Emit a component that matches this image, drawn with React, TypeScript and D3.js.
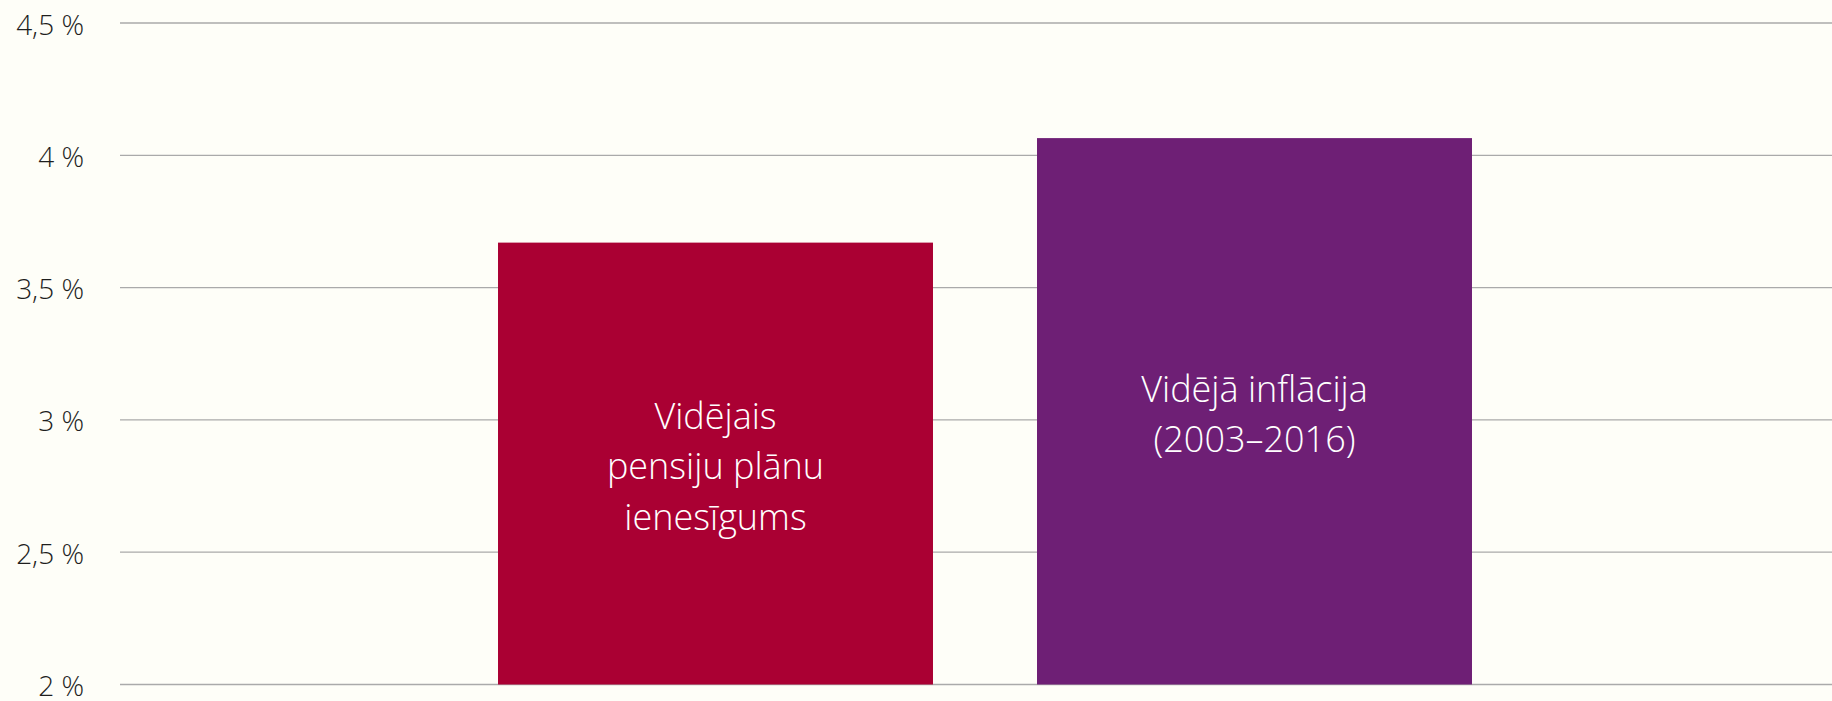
import React from "react";
import * as d3 from "d3";

const categories = ["pension", "inflation"];
const values = [3.67, 4.065];
const barColors = ["#aa0033", "#6e1f75"];
const barLabels = [
  ["Vidējais", "pensiju plānu", "ienesīgums"],
  ["Vidējā inflācija", "(2003–2016)"],
];
const yTicks = [2, 2.5, 3, 3.5, 4, 4.5];
const tickLabels = ["2 %", "2,5 %", "3 %", "3,5 %", "4 %", "4,5 %"];

const W = 1832;
const H = 701;
const FONT = "'Open Sans', 'DejaVu Sans', sans-serif";

export default function App() {
  const y = d3.scaleLinear().domain([2, 4.5]).range([684.5, 23]);
  const x = d3
    .scaleBand<string>()
    .domain(categories)
    .range([446, 1524])
    .paddingInner(0.193)
    .paddingOuter(0.0965);
  const lineH = 50.5;
  return (
    <div style={{ position: "absolute", left: 0, top: 0 }}>
      <svg width={W} height={H} style={{ display: "block", background: "#fefef8" }}>
        <rect x={0} y={0} width={W} height={H} fill="#fefef8" />
        {yTicks.map((t, i) => (
          <g key={t}>
            <line x1={120} x2={W} y1={y(t)} y2={y(t)} stroke="#aaaaaa" strokeWidth={1.3} />
            <text
              x={84}
              y={y(t) + 11.5}
              textAnchor="end"
              fontFamily={FONT}
              fontWeight={300}
              fontSize={28}
              fill="#1e1e1e"
            >
              {tickLabels[i]}
            </text>
          </g>
        ))}
        {categories.map((c, i) => {
          const x0 = x(c)!;
          const bw = x.bandwidth();
          const top = y(values[i]);
          const bottom = y(2);
          const lines = barLabels[i];
          const mid = (top + bottom) / 2;
          const firstBaseline = mid - ((lines.length - 1) * lineH) / 2 + 15.5;
          return (
            <g key={c}>
              <rect x={x0} y={top} width={bw} height={bottom - top} fill={barColors[i]} />
              <text
                textAnchor="middle"
                fontFamily={FONT}
                fontWeight={300}
                fontSize={36}
                fill="#ffffff"
              >
                {lines.map((l, j) => (
                  <tspan key={j} x={x0 + bw / 2} y={firstBaseline + j * lineH}>
                    {l}
                  </tspan>
                ))}
              </text>
            </g>
          );
        })}
      </svg>
    </div>
  );
}
